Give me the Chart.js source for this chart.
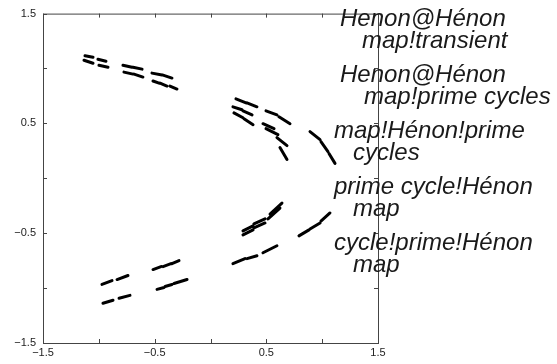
<!DOCTYPE html>
<html>
<head>
<meta charset="utf-8">
<script src="https://cdn.jsdelivr.net/npm/chart.js@4"></script>
<style>
    html, body { margin: 0; padding: 0; background: #fff; }
    #wrap { width: 557px; height: 364px; position: relative; }
</style>
</head>
<body>
<div id="wrap"><canvas id="henonChart"></canvas></div>
<script>
// short dashes, each one [x1, y1, x2, y2] in data units
var upperLeft = [
    [-1.124, 1.116, -1.052, 1.102],
    [-1.133, 1.075, -1.052, 1.048],
    [-1.008, 1.084, -0.936, 1.066],
    [-0.999, 1.030, -0.918, 1.012],
    [-0.784, 1.030, -0.703, 1.012],
    [-0.694, 1.012, -0.613, 0.994],
    [-0.775, 0.967, -0.694, 0.949],
    [-0.685, 0.949, -0.605, 0.922],
    [-0.524, 0.958, -0.434, 0.940],
    [-0.425, 0.940, -0.345, 0.913],
    [-0.515, 0.886, -0.461, 0.867],
    [-0.452, 0.867, -0.390, 0.840],
    [-0.363, 0.840, -0.300, 0.813]
];
var middleRight = [
    [0.228, 0.723, 0.318, 0.687],
    [0.327, 0.687, 0.416, 0.651],
    [0.201, 0.651, 0.282, 0.624],
    [0.291, 0.614, 0.372, 0.578],
    [0.210, 0.596, 0.291, 0.551],
    [0.300, 0.542, 0.381, 0.488],
    [0.497, 0.614, 0.595, 0.578],
    [0.613, 0.560, 0.712, 0.497],
    [0.470, 0.497, 0.569, 0.452],
    [0.497, 0.452, 0.604, 0.398],
    [0.595, 0.371, 0.685, 0.298],
    [0.622, 0.280, 0.685, 0.172],
    [0.891, 0.425, 0.981, 0.352],
    [0.989, 0.334, 1.052, 0.244],
    [1.061, 0.226, 1.115, 0.136]
];
var lowerLeft = [
    [-0.972, -0.967, -0.882, -0.931],
    [-0.837, -0.922, -0.739, -0.885],
    [-0.963, -1.138, -0.873, -1.111],
    [-0.819, -1.093, -0.721, -1.066],
    [-0.515, -0.831, -0.443, -0.804],
    [-0.425, -0.804, -0.354, -0.777],
    [-0.345, -0.777, -0.282, -0.750],
    [-0.479, -1.012, -0.416, -0.994],
    [-0.407, -0.985, -0.345, -0.967],
    [-0.327, -0.958, -0.210, -0.922]
];
var lowerRight = [
    [0.201, -0.777, 0.309, -0.732],
    [0.327, -0.732, 0.416, -0.705],
    [0.470, -0.678, 0.595, -0.614],
    [0.291, -0.479, 0.381, -0.434],
    [0.291, -0.515, 0.381, -0.470],
    [0.389, -0.416, 0.488, -0.370],
    [0.389, -0.452, 0.488, -0.407],
    [0.533, -0.325, 0.640, -0.226],
    [0.515, -0.370, 0.622, -0.271],
    [0.792, -0.524, 0.882, -0.470],
    [0.891, -0.461, 0.981, -0.407],
    [0.989, -0.389, 1.070, -0.316]
];
var tickLabels = [-1.5, -0.5, 0.5, 1.5];
var indexEntries = [
    ['Henon@Hénon', 'map!transient'],
    ['Henon@Hénon', 'map!prime cycles'],
    ['map!Hénon!prime', 'cycles'],
    ['prime cycle!Hénon', 'map'],
    ['cycle!prime!Hénon', 'map']
];

function toPoints(dashes) {
    var pts = [];
    dashes.forEach(function(d) {
        pts.push({x: d[0], y: d[1]});
        pts.push({x: d[2], y: d[3]});
        pts.push({x: d[2], y: null});
    });
    return pts;
}

function fmt(v) {
    if (tickLabels.indexOf(v) < 0) return '';
    return (v < 0 ? '\u2212' : '') + Math.abs(v).toFixed(1);
}

var tickFont = {family: '"Liberation Sans", Arial, sans-serif', size: 11};

// box frame with small inward ticks on all four sides
var framePlugin = {
    id: 'frame',
    afterDatasetsDraw: function(chart) {
        var c = chart.ctx, a = chart.chartArea;
        var xs = chart.scales.x, ys = chart.scales.y;
        c.save();
        c.strokeStyle = '#444';
        c.lineWidth = 1;
        c.strokeRect(a.left + 0.5, a.top + 0.5, a.right - a.left, a.bottom - a.top);
        c.beginPath();
        xs.ticks.forEach(function(t) {
            var px = Math.round(xs.getPixelForValue(t.value)) + 0.5;
            c.moveTo(px, a.bottom); c.lineTo(px, a.bottom - 4);
            c.moveTo(px, a.top); c.lineTo(px, a.top + 4);
        });
        ys.ticks.forEach(function(t) {
            var py = Math.round(ys.getPixelForValue(t.value)) + 0.5;
            c.moveTo(a.left, py); c.lineTo(a.left + 4, py);
            c.moveTo(a.right, py); c.lineTo(a.right - 4, py);
        });
        c.stroke();
        c.restore();
    },
    afterDraw: function(chart) {
        var c = chart.ctx;
        var firstX = [340, 340, 334, 334, 334];
        var nextX = [362, 364, 353, 353, 353];
        c.save();
        c.font = 'italic 24px "Liberation Sans", Arial, sans-serif';
        c.fillStyle = '#1a1a1a';
        c.textBaseline = 'alphabetic';
        indexEntries.forEach(function(lines, i) {
            lines.forEach(function(txt, j) {
                c.fillText(txt, j ? nextX[i] : firstX[i], 26 + 56 * i + 22 * j);
            });
        });
        c.restore();
    }
};

var groups = [upperLeft, middleRight, lowerLeft, lowerRight];
var datasets = groups.map(function(g) {
    return {
        data: toPoints(g),
        showLine: true,
        spanGaps: false,
        borderColor: '#000',
        borderWidth: 3,
        borderCapStyle: 'round',
        pointRadius: 0,
        tension: 0
    };
});

var ctx = document.getElementById('henonChart');
var chart = new Chart(ctx, {
    type: 'scatter',
    data: { datasets: datasets },
    options: {
        responsive: true,
        maintainAspectRatio: false,
        animation: false,
        layout: { padding: { left: 0, top: 11, right: 179, bottom: 0 } },
        plugins: {
            legend: { display: false },
            tooltip: { enabled: false }
        },
        scales: {
            x: {
                type: 'linear',
                min: -1.5,
                max: 1.5,
                grid: { display: false, drawTicks: false },
                border: { display: false },
                ticks: {
                    stepSize: 0.5, autoSkip: false, maxRotation: 0,
                    padding: 3, color: '#222', font: tickFont,
                    callback: fmt
                },
                afterFit: function(s) { s.height = 21; }
            },
            y: {
                type: 'linear',
                min: -1.5,
                max: 1.5,
                grid: { display: false, drawTicks: false },
                border: { display: false },
                ticks: {
                    stepSize: 0.5, autoSkip: false,
                    padding: 7, color: '#222', font: tickFont,
                    callback: fmt
                },
                afterFit: function(s) { s.width = 43; }
            }
        }
    },
    plugins: [framePlugin]
});
</script>
</body>
</html>
